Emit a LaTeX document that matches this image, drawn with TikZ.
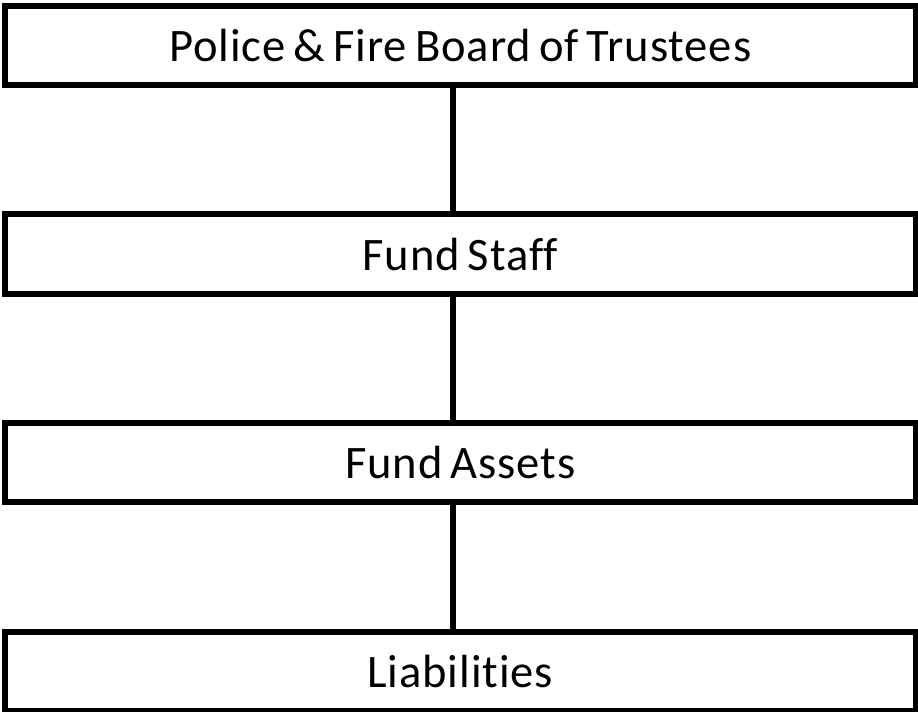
\documentclass[tikz,border=0pt]{standalone}
\usepackage{fontspec}
\setmainfont{Carlito}[Ligatures={NoCommon},WordSpace=0.7,LetterSpace=2]
\usetikzlibrary{positioning}
\tikzset{
org box/.style={draw,rectangle,line width=0.12cm,outer sep=0pt,
  minimum width=18.21cm,minimum height=1.585cm,
  font=\fontsize{26.5}{30}\selectfont},
org link/.style={line width=0.115cm,line cap=butt},
}
\begin{document}
\begin{tikzpicture}[node distance=2.59cm]
\useasboundingbox (0,0) rectangle (18.36,-14.22);
\node[org box] (board) at (9.205,-0.905) {Police \& Fire Board of Trustees};
\node[org box,below=of board] (staff) {Fund Staff};
\node[org box,below=of staff] (assets) {Fund Assets};
\node[org box,below=of assets] (liab) {Liabilities};
% links sit a little left of the box centres
\foreach \a/\b in {board/staff,staff/assets,assets/liab}
  \draw[org link] ([xshift=-0.145cm]\a.south) -- ([xshift=-0.145cm]\b.north);
\end{tikzpicture}
\end{document}
